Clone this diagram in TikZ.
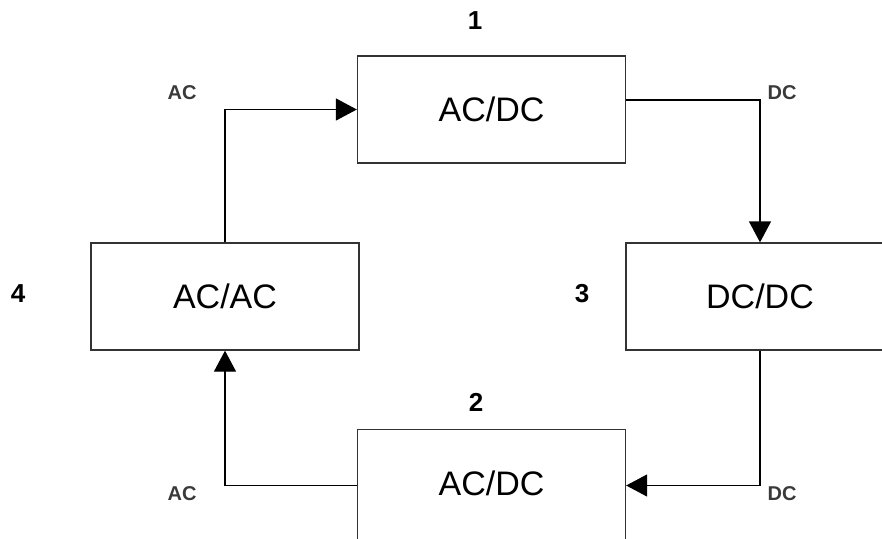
\documentclass[tikz,border=0pt]{standalone}
\usepackage{fontspec}
\setmainfont{Liberation Sans}
\usetikzlibrary{arrows.meta}
\definecolor{linec}{HTML}{333333}
\definecolor{labc}{HTML}{3A3A3A}
\tikzset{
  blockbox/.style={draw=linec, line width=1.3pt, minimum width=268pt, minimum height=107pt, inner sep=0pt, font=\fontsize{34}{40}\selectfont},
  numlabel/.style={font=\bfseries\fontsize{26}{30}\selectfont, inner sep=0pt},
  siglabel/.style={font=\bfseries\fontsize{20}{22}\selectfont, text=labc, inner sep=0pt},
  arr/.style={draw=black, line width=1.3pt, -{Triangle[length=21pt,width=22pt]}}
}
\begin{document}
\begin{tikzpicture}[x=1pt,y=-1pt]
\useasboundingbox (0,0) rectangle (882,538);
\clip (0,0) rectangle (882,538);
\node[blockbox] (top) at (491.5,109.5) {AC/DC};
\node[blockbox] (acac) at (225,296.5) {AC/AC};
\node[blockbox] (dcdc) at (760,296.5) {DC/DC};
\node[blockbox, minimum height=112pt] (bot) at (491.5,485.5) {\raisebox{4pt}{AC/DC}};
\node[numlabel] (n1) at (475,21) {1};
\node[numlabel] (n2) at (476,402) {2};
\node[numlabel] (n3) at (582,294) {3};
\node[numlabel] (n4) at (18,294) {4};
\node[siglabel] (l1) at (182,93) {AC};
\node[siglabel] (l2) at (782,93) {DC};
\node[siglabel] (l3) at (782,494) {DC};
\node[siglabel] (l4) at (182,494) {AC};
\coordinate (topout) at (626,100);
\draw[arr] (acac.north) |- (top.west);
\draw[arr] (topout) -| (dcdc.north);
\draw[arr] (dcdc.south) |- (bot.east);
\draw[arr] (bot.west) -| (acac.south);
\end{tikzpicture}
\end{document}
